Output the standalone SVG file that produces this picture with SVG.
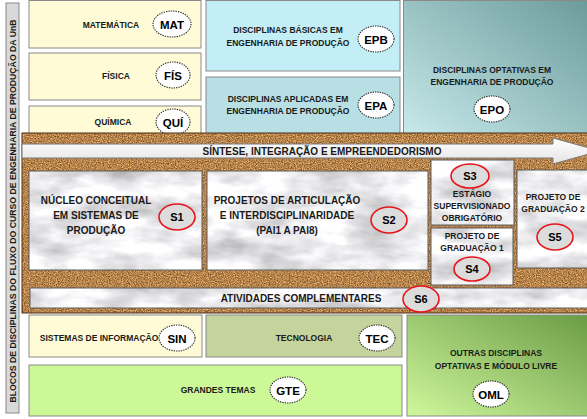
<svg xmlns="http://www.w3.org/2000/svg" width="587" height="419" viewBox="0 0 587 419">
<style>
text{font-family:"Liberation Sans",Arial,sans-serif;font-weight:bold;fill:#1a1a1a;text-anchor:middle}
.s{font-size:8.5px}
.m{font-size:10px}
.c{font-size:11.5px;fill:#000}
.r{font-size:11px;fill:#000}
.box{stroke:#8a8a8a;stroke-width:1}
.code{fill:#fff;stroke:#222;stroke-width:1.1;stroke-dasharray:1.3 1.1}
.red{fill:#dcdcdc;stroke:#e8141c;stroke-width:1.6}
.mb{fill:#ececec;filter:url(#marble)}
.mbs{fill:none;stroke:#5c5c5c;stroke-width:1}
</style>
<defs>
<filter id="cork" x="0" y="0" width="1" height="1" color-interpolation-filters="sRGB">
<feTurbulence type="fractalNoise" baseFrequency="0.85" numOctaves="2" seed="5" result="n"/>
<feColorMatrix in="n" type="matrix" values="0.85 0 0 0 0.29  0.75 0 0 0 0.14  0.55 0 0 0 0.02  0 0 0 0 1" result="c"/>
<feComposite in="c" in2="SourceGraphic" operator="in"/>
</filter>
<filter id="marble" x="0" y="0" width="1" height="1" color-interpolation-filters="sRGB">
<feTurbulence type="fractalNoise" baseFrequency="0.02 0.05" numOctaves="4" seed="3" result="n"/>
<feColorMatrix in="n" type="matrix" values="0.5 0 0 0 0.67  0.5 0 0 0 0.67  0.5 0 0 0 0.68  0 0 0 0 1" result="c"/>
<feComposite in="c" in2="SourceGraphic" operator="in"/>
</filter>
<linearGradient id="gEPO" x1="1" y1="0" x2="0" y2="1">
<stop offset="0" stop-color="#6c9b9b"/><stop offset="1" stop-color="#c8eaec"/>
</linearGradient>
<linearGradient id="gOML" x1="1" y1="0" x2="0" y2="1">
<stop offset="0" stop-color="#6a9c46"/><stop offset="1" stop-color="#d0f79c"/>
</linearGradient>
<linearGradient id="gArrow" x1="0" y1="0" x2="0" y2="1">
<stop offset="0" stop-color="#ffffff"/><stop offset="1" stop-color="#e4e4e4"/>
</linearGradient>
</defs>
<rect width="587" height="419" fill="#fff"/>

<g id="side">
<rect x="6" y="3" width="13" height="410" fill="#d9d9d9" stroke="#8a8a8a"/>
<text transform="translate(15.5 211) rotate(-90)" style="font-size:8.7px">BLOCOS DE DISCIPLINAS DO FLUXO DO CURSO DE ENGENHARIA DE PRODUÇÃO DA UnB</text>
</g>

<g id="MAT">
<rect class="box" x="29" y="0.5" width="172" height="47.5" fill="#fefbd6"/>
<text class="s" x="111" y="28">MATEMÁTICA</text>
<ellipse class="code" cx="172" cy="24" rx="19" ry="13"/>
<text class="c" x="172" y="28.5">MAT</text>
</g>
<g id="FIS">
<rect class="box" x="29" y="53" width="172" height="47" fill="#fefbd6"/>
<text class="s" x="116" y="79">FÍSICA</text>
<ellipse class="code" cx="173" cy="75" rx="17" ry="13"/>
<text class="c" x="173" y="79.5">FÍS</text>
</g>
<g id="QUI">
<rect class="box" x="29" y="106" width="172" height="30" fill="#fefbd6"/>
<text class="s" x="113" y="125">QUÍMICA</text>
<ellipse class="code" cx="173" cy="122" rx="17" ry="13"/>
<text class="c" x="173" y="126.5">QUÍ</text>
</g>
<g id="EPB">
<rect class="box" x="206" y="0.5" width="194" height="70.5" fill="#c3eef6"/>
<text class="s" x="288" y="33">DISCIPLINAS BÁSICAS EM</text>
<text class="s" x="288" y="46">ENGENHARIA DE PRODUÇÃO</text>
<ellipse class="code" cx="376" cy="39" rx="18" ry="13"/>
<text class="c" x="376" y="43.5">EPB</text>
</g>
<g id="EPA">
<rect class="box" x="206" y="77" width="194" height="59" fill="#b8dfe4"/>
<text class="s" x="288" y="102">DISCIPLINAS APLICADAS EM</text>
<text class="s" x="288" y="114">ENGENHARIA DE PRODUÇÃO</text>
<ellipse class="code" cx="376" cy="105" rx="18" ry="13"/>
<text class="c" x="376" y="109.5">EPA</text>
</g>
<g id="EPO">
<rect class="box" x="403.5" y="0.5" width="184" height="135" fill="url(#gEPO)"/>
<text class="s" x="492" y="73">DISCIPLINAS OPTATIVAS EM</text>
<text class="s" x="492" y="85">ENGENHARIA DE PRODUÇÃO</text>
<ellipse class="code" cx="492" cy="109" rx="18" ry="13"/>
<text class="c" x="492" y="113.5">EPO</text>
</g>

<g id="cork-band">
<rect x="22" y="133" width="566" height="180" fill="#b07840" filter="url(#cork)"/>
<rect x="22" y="133" width="566" height="180" fill="none" stroke="#4a3018" stroke-width="1"/>
</g>

<g id="connectors">
<polygon points="22,144 553,144 553,138 600,151 553,164 553,158 22,158" fill="url(#gArrow)" stroke="#7a7a7a" stroke-width="1"/>
<text class="m" x="322" y="155">SÍNTESE, INTEGRAÇÃO E EMPREENDEDORISMO</text>
</g>

<g id="S1">
<rect class="mb" x="29" y="171" width="173" height="99"/>
<rect class="mbs" x="29" y="171" width="173" height="99"/>
<text class="m" x="96" y="204">NÚCLEO CONCEITUAL</text>
<text class="m" x="96" y="219">EM SISTEMAS DE</text>
<text class="m" x="96" y="234">PRODUÇÃO</text>
<ellipse class="red" cx="177" cy="217" rx="18" ry="13"/>
<text class="r" x="177" y="221">S1</text>
</g>
<g id="S2">
<rect class="mb" x="207" y="171" width="221" height="99"/>
<rect class="mbs" x="207" y="171" width="221" height="99"/>
<text class="m" x="287" y="204">PROJETOS DE ARTICULAÇÃO</text>
<text class="m" x="287" y="219">E INTERDISCIPLINARIDADE</text>
<text class="m" x="287" y="234">(PAI1 A PAI8)</text>
<ellipse class="red" cx="389" cy="220" rx="18" ry="13"/>
<text class="r" x="389" y="224">S2</text>
</g>
<g id="S3">
<rect class="mb" x="431" y="160" width="83" height="65"/>
<rect class="mbs" x="431" y="160" width="83" height="65"/>
<ellipse class="red" cx="470" cy="176" rx="19" ry="12"/>
<text class="r" x="470" y="180">S3</text>
<text class="s" x="472" y="197">ESTÁGIO</text>
<text class="s" x="472" y="209">SUPERVISIONADO</text>
<text class="s" x="472" y="221">OBRIGATÓRIO</text>
</g>
<g id="S4">
<rect class="mb" x="431" y="228" width="82" height="57"/>
<rect class="mbs" x="431" y="228" width="82" height="57"/>
<text class="s" x="472" y="239">PROJETO DE</text>
<text class="s" x="472" y="251">GRADUAÇÃO 1</text>
<ellipse class="red" cx="472" cy="269" rx="18" ry="12"/>
<text class="r" x="472" y="273">S4</text>
</g>
<g id="S5">
<rect class="mb" x="517" y="170" width="72" height="98"/>
<rect class="mbs" x="517" y="170" width="72" height="98"/>
<text class="s" x="553" y="200">PROJETO DE</text>
<text class="s" x="553" y="212">GRADUAÇÃO 2</text>
<ellipse class="red" cx="555" cy="237" rx="18" ry="13"/>
<text class="r" x="555" y="241">S5</text>
</g>
<g id="S6">
<rect class="mb" x="30" y="288" width="558" height="20"/>
<rect class="mbs" x="30" y="288" width="558" height="20"/>
<text class="m" x="301" y="302">ATIVIDADES COMPLEMENTARES</text>
<ellipse class="red" cx="421" cy="299" rx="18" ry="13"/>
<text class="r" x="421" y="303">S6</text>
</g>

<g id="SIN">
<rect class="box" x="29" y="315" width="173" height="42" fill="#fefbd6"/>
<text class="s" x="99" y="341">SISTEMAS DE INFORMAÇÃO</text>
<ellipse class="code" cx="177" cy="338" rx="18" ry="13"/>
<text class="c" x="177" y="342.5">SIN</text>
</g>
<g id="TEC">
<rect class="box" x="206" y="315" width="196" height="42" fill="#c4d49c"/>
<text class="s" x="304" y="341">TECNOLOGIA</text>
<ellipse class="code" cx="377" cy="338" rx="18" ry="13"/>
<text class="c" x="377" y="342.5">TEC</text>
</g>
<g id="GTE">
<rect class="box" x="29" y="365" width="373" height="51" fill="#cdf898"/>
<text class="s" x="218" y="393">GRANDES TEMAS</text>
<ellipse class="code" cx="288" cy="390" rx="18" ry="13"/>
<text class="c" x="288" y="394.5">GTE</text>
</g>
<g id="OML">
<rect class="box" x="407" y="315" width="181" height="101" fill="url(#gOML)"/>
<text class="s" x="496" y="356">OUTRAS DISCIPLINAS</text>
<text class="s" x="496" y="369">OPTATIVAS E MÓDULO LIVRE</text>
<ellipse class="code" cx="491" cy="394" rx="18" ry="13"/>
<text class="c" x="491" y="398.5">OML</text>
</g>
</svg>
